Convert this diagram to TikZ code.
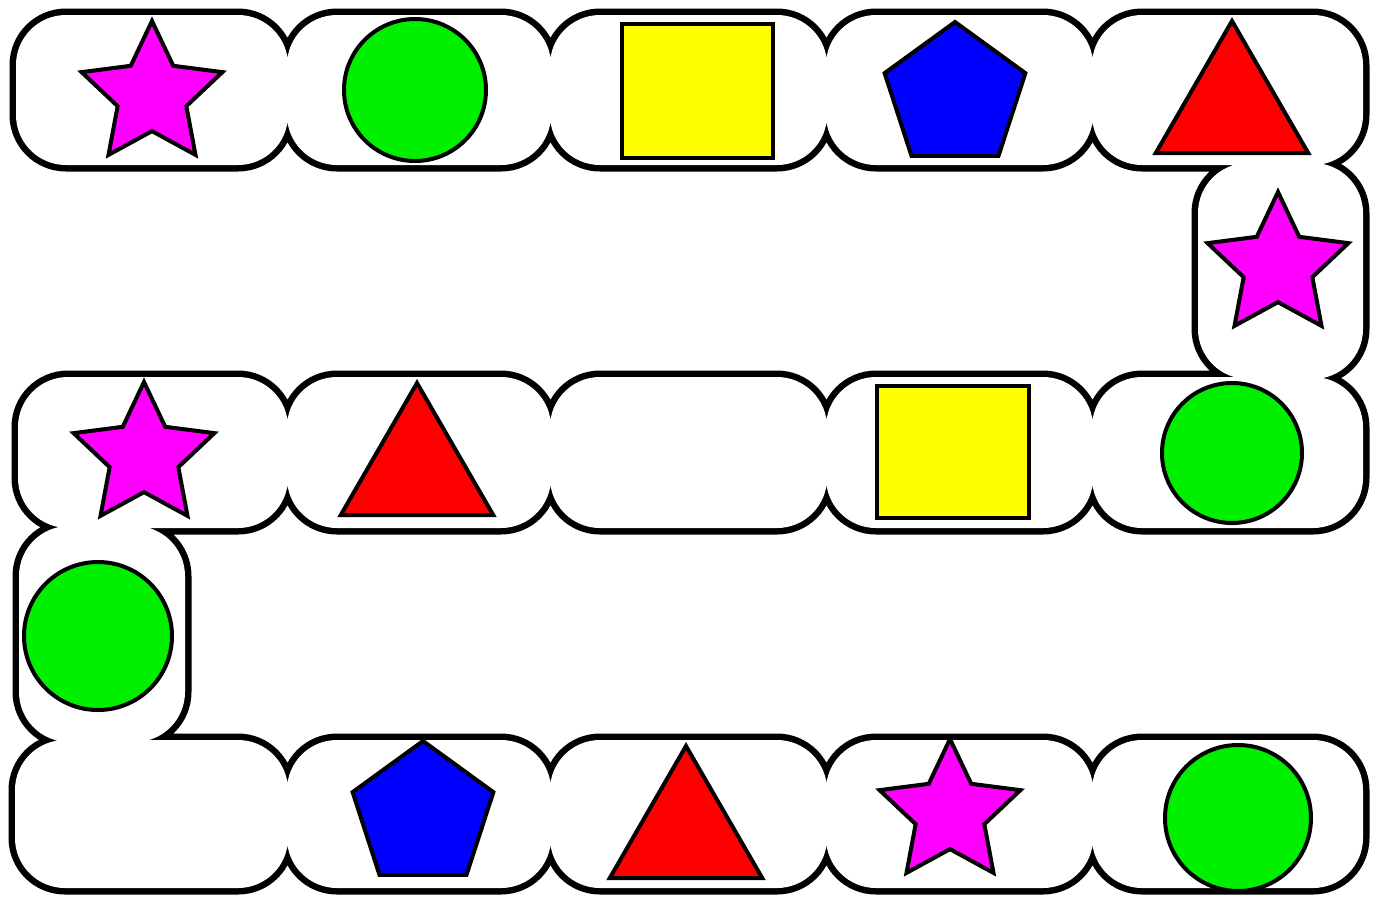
\documentclass[tikz,border=0pt]{standalone}
\usetikzlibrary{shapes.geometric}
\definecolor{pinkstar}{RGB}{255,0,255}
\definecolor{greenball}{RGB}{0,240,0}
\definecolor{yellowbox}{RGB}{255,255,0}
\definecolor{bluepenta}{RGB}{0,0,255}
\definecolor{redtri}{RGB}{255,0,0}

\begin{document}
\begin{tikzpicture}[x=0.5pt, y=-0.5pt,
    piece/.style={draw=black, line width=2pt, inner sep=0pt, outer sep=0pt},
    starpiece/.style={piece, star, star points=5, star point ratio=2.05, fill=pinkstar, minimum size=74pt},
    ballpiece/.style={piece, circle, fill=greenball},
    boxpiece/.style={piece, rectangle, fill=yellowbox},
    pentapiece/.style={piece, regular polygon, regular polygon sides=5, fill=bluepenta, minimum size=74pt},
    tripiece/.style={piece, regular polygon, regular polygon sides=3, fill=redtri, minimum size=88pt}
]

    \useasboundingbox (0,0) rectangle (1383,902);

    % 1. the track: all cells, drawn thick and then filled white
    \path[save path=\track, rounded corners=25pt]
        % top row
        (16,15) rectangle (288,165) (287,15) rectangle (551,165)
        (550,15) rectangle (827,165) (826,15) rectangle (1093,165)
        (1092,15) rectangle (1363,165)
        % right column
        (1198,163) rectangle (1363,379)
        % middle row
        (18,377) rectangle (288,528) (287,377) rectangle (551,528)
        (550,377) rectangle (827,528) (826,377) rectangle (1093,528)
        (1092,377) rectangle (1363,528)
        % left column
        (19,526) rectangle (185,742)
        % bottom row
        (15,740) rectangle (288,888) (287,740) rectangle (551,888)
        (550,740) rectangle (827,888) (826,740) rectangle (1093,888)
        (1092,740) rectangle (1363,888);
    \draw[line width=6.5pt, use path=\track];
    \fill[white, use path=\track];

    % 2. top row
    \node (star1) at (152,95) [starpiece] {};
    \node (ball1) at (415,90) [ballpiece, minimum size=71pt] {};
    \node (box1) at (697,91) [boxpiece, minimum width=75.5pt, minimum height=67pt] {};
    \node (penta1) at (955,96) [pentapiece] {};
    \node (tri1) at (1232,109) [tripiece] {};

    % 3. right column
    \node (star2) at (1278,266) [starpiece] {};

    % 4. middle row
    \node (ball2) at (1232,453) [ballpiece, minimum size=70pt] {};
    \node (box2) at (953,452) [boxpiece, minimum width=76pt, minimum height=66pt] {};
    \node (tri2) at (417,471) [tripiece] {};
    \node (star3) at (144,456) [starpiece] {};

    % 5. left column
    \node (ball3) at (98,636) [ballpiece, minimum size=74pt] {};

    % 6. bottom row
    \node (penta2) at (423,815) [pentapiece] {};
    \node (tri3) at (686,834) [tripiece] {};
    \node (star4) at (950,813) [starpiece] {};
    \node (ball4) at (1238,818) [ballpiece, minimum size=73pt] {};

\end{tikzpicture}
\end{document}
